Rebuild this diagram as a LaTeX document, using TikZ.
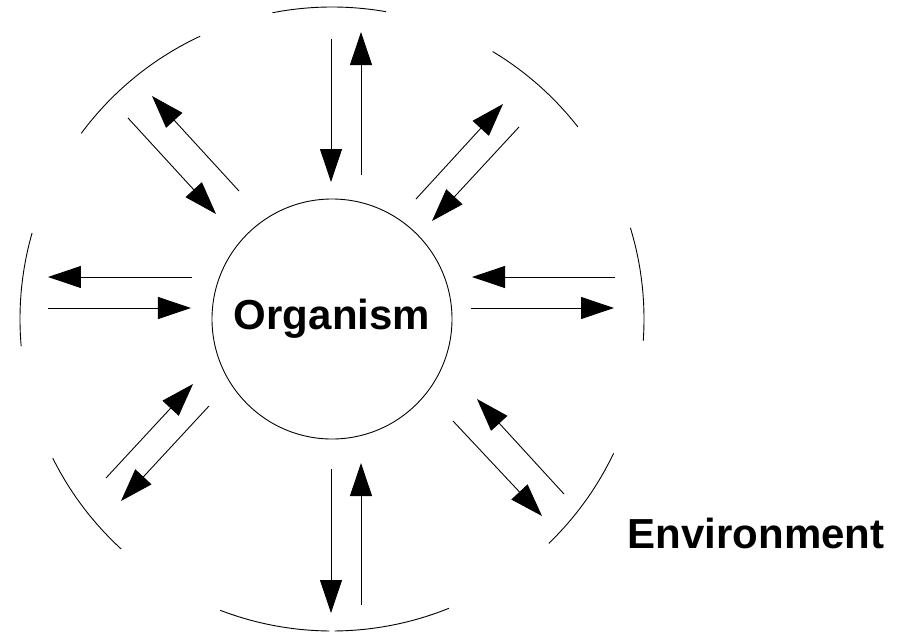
\documentclass[tikz,border=0pt]{standalone}
\usepackage{fontspec}
\setmainfont{Liberation Sans}
\usetikzlibrary{arrows.meta}

\begin{document}
\begin{tikzpicture}[x=1pt,y=1pt,
    flow/.style={line width=0.9pt,-{Triangle[length=33pt,width=22pt]}},
    rim/.style={line width=0.9pt},
    bigtext/.style={font=\fontsize{42}{50}\selectfont\bfseries}]
                \useasboundingbox (-332,-314) rectangle (572,319);
                % organism and environment
                \node[draw,circle,line width=0.9pt,minimum size=240pt,inner sep=0pt,bigtext] (organism) at (0,0) {Organism};
                \node[bigtext] (environment) at (424,-214) {Environment};
                % outer boundary
                \draw[rim] (80:312pt) arc[start angle=80,end angle=101,radius=312pt];
                \draw[rim] (38:312pt) arc[start angle=38,end angle=59,radius=312pt];
                \draw[rim] (-4:312pt) arc[start angle=-4,end angle=17,radius=312pt];
                \draw[rim] (-46:312pt) arc[start angle=-46,end angle=-25.5,radius=312pt];
                \draw[rim] (-89.5:312pt) arc[start angle=-89.5,end angle=-68,radius=312pt];
                \draw[rim] (-111:312pt) arc[start angle=-111,end angle=-90.5,radius=312pt];
                \draw[rim] (206.5:312pt) arc[start angle=206.5,end angle=227.5,radius=312pt];
                \draw[rim] (164:312pt) arc[start angle=164,end angle=185,radius=312pt];
                \draw[rim] (115:312pt) arc[start angle=115,end angle=143.5,radius=312pt];
                % exchanges
                \draw[flow] (-1,280)--(-1,137);
                \draw[flow] (29,144)--(29,287);
                \draw[flow] (187,192)--(100,98);
                \draw[flow] (84,120)--(171,215);
                \draw[flow] (283,42)--(140,42);
                \draw[flow] (139,11)--(282,11);
                \draw[flow] (232,-175)--(145,-80);
                \draw[flow] (121,-102)--(210,-197);
                \draw[flow] (29,-286)--(29,-144);
                \draw[flow] (-1,-150)--(-1,-294);
                \draw[flow] (-123,-87)--(-211,-182);
                \draw[flow] (-226,-159)--(-139,-65);
                \draw[flow] (-284,11)--(-141,11);
                \draw[flow] (-140,42)--(-284,42);
                \draw[flow] (-93,128)--(-180,223);
                \draw[flow] (-204,201)--(-116,105);
            \end{tikzpicture}
\end{document}
